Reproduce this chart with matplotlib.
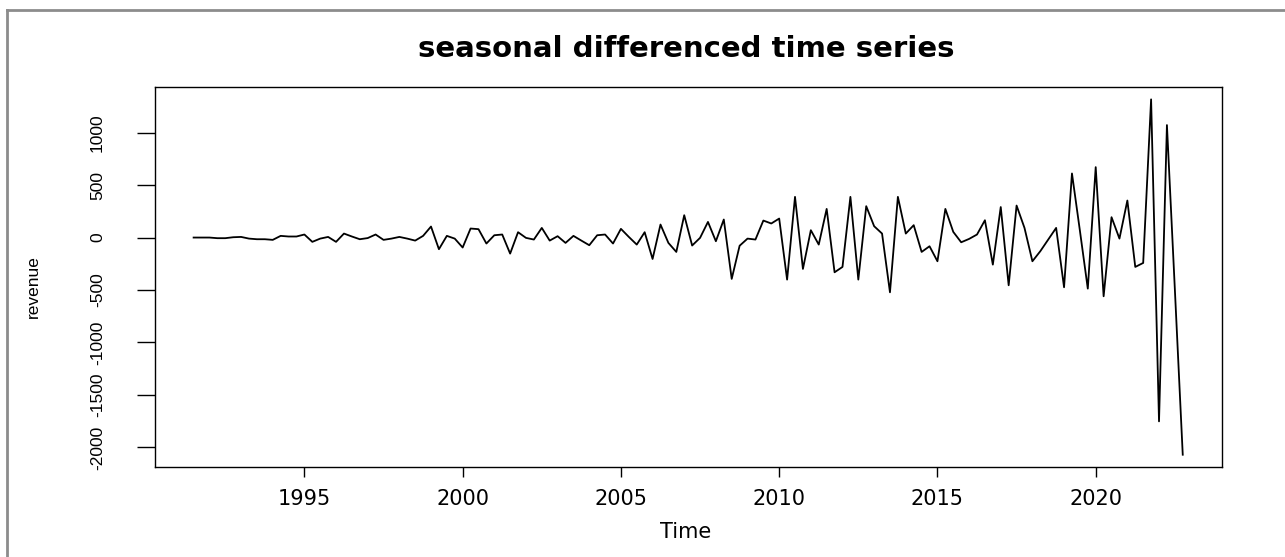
"""
plot.py - seasonal differenced quarterly revenue, drawn like R's base plot.ts output
"""

import numpy as np
import matplotlib
matplotlib.use('Agg')
import matplotlib.pyplot as plt
from matplotlib.lines import Line2D

# --- data (quarterly) ---
start_year = 1991.5
revenue_diff = [
    0, 0, 0, -6, -6, 3, 6, -10, -16, -16, -22, 16, 10, 10, 29, -41, -10, 6,
    -41, 38, 10, -16, -5, 29, -22, -10, 6, -10, -29, 16, 105, -111, 16, -10, -95, 86,
    80, -57, 22, 29, -153, 51, -3, -19, 92, -29, 13, -51, 16, -29, -73, 22, 29, -57,
    83, 6, -67, 51, -204, 124, -51, -137, 213, -76, -3, 149, -35, 172, -394, -78, -10,
    -19, 162, 134, 181, -401, 388, -299, 70, -67, 273, -331, -280, 388, -401, 299, 108,
    38, -522, 388, 38, 118, -137, -83, -226, 273, 54, -45, -13, 29, 165, -258,
    291, -455, 305, 92, -226, -130, -19, 92, -474, 611, 67, -487, 671, -560, 194, -10,
    353, -280, -242, 1317, -1752, 1072, -490, -2070,
]
x_ticks = [1995, 2000, 2005, 2010, 2015, 2020]
y_ticks = [-2000, -1500, -1000, -500, 0, 500, 1000]

title = 'seasonal differenced time series'
x_label = 'Time'
y_label = 'revenue'

W, H = 1285, 557
DPI = 100


def px(x, y):
    """pixel position (from top-left) -> figure fraction"""
    return x / W, 1 - y / H


values = np.array(revenue_diff, dtype=float)
t = start_year + np.arange(len(values)) / 4

fig = plt.figure(figsize=(W / DPI, H / DPI), dpi=DPI)
fig.patch.set_facecolor('white')

# plot region in pixels: left 155, right 1222, top 87, bottom 467
ax = fig.add_axes([155 / W, 1 - 467 / H, (1222 - 155) / W, (467 - 87) / H])
ax.plot(t, values, color='black', linewidth=1.3)

ax.set_xlim(1990.28, 2023.99)
ax.set_ylim(-2187, 1435)

for side in ax.spines.values():
    side.set_linewidth(1.0)
    side.set_color('black')

ax.set_xticks(x_ticks)
ax.set_xticklabels([str(v) for v in x_ticks], family='DejaVu Sans', fontsize=15)
ax.tick_params(axis='x', length=7, width=1, pad=9, direction='out')

ax.set_yticks(y_ticks)
ax.set_yticklabels([str(v) for v in y_ticks], rotation=90, va='center', ha='right',
                   family='Liberation Sans', fontsize=12.5)
ax.tick_params(axis='y', length=13, width=1, pad=23, direction='out')

fig.text(*px(686, 49), title, ha='center', va='center',
         family='DejaVu Sans', fontweight='bold', fontsize=21)
fig.text(*px(686, 532), x_label, ha='center', va='center',
         family='DejaVu Sans', fontsize=15)
fig.text(*px(33, 287), y_label, ha='center', va='center', rotation=90,
         family='Liberation Sans', fontsize=12.5)

# grey window frame around the screenshot
x0, y0 = px(7, 10)
fig.add_artist(Line2D([x0, 1], [y0, y0], transform=fig.transFigure,
                      color='#8c8c8c', linewidth=2))
fig.add_artist(Line2D([x0, x0], [0, y0], transform=fig.transFigure,
                      color='#8c8c8c', linewidth=2))

fig.savefig('out.png', dpi=DPI, facecolor='white')
